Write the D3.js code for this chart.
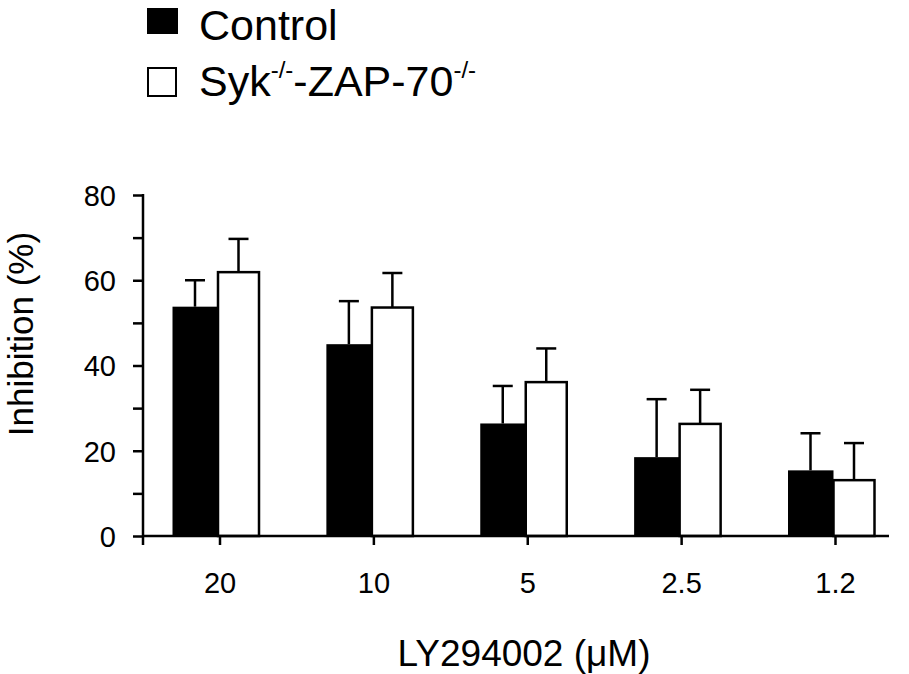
<!DOCTYPE html>
<html><head><meta charset="utf-8">
<script src="https://cdn.jsdelivr.net/npm/d3@7/dist/d3.min.js"></script>
<style>
html,body{margin:0;padding:0;background:#fff;}
text{font-family:"Liberation Sans",Arial,Helvetica,sans-serif;fill:#000;}
</style></head>
<body>
<svg id="chart" width="909" height="674"></svg>
<script>
const categories = ["20", "10", "5", "2.5", "1.2"];
const controlMean = [53.8, 45.0, 26.4, 18.5, 15.4];
const controlErr  = [6.2, 10.1, 8.8, 13.6, 8.7];
const sykMean     = [61.9, 53.6, 36.1, 26.3, 13.1];
const sykErr      = [7.8, 8.1, 7.9, 8.0, 8.7];
const yTicks = [0, 10, 20, 30, 40, 50, 60, 70, 80];
const yTickLabels = ["0", "", "20", "", "40", "", "60", "", "80"];

const svg = d3.select("#chart");
const axisLeftX = 143, axisRightX = 889;
const y = d3.scaleLinear().domain([0, 80]).range([536, 195]);
const x = d3.scalePoint().domain(categories).range([219.5, 835]);
const lw = 2.5;

// bars
const g = svg.append("g");
categories.forEach((c, i) => {
  const cx = x(c);
  g.append("rect").attr("x", cx - 47).attr("width", 45.5)
    .attr("y", y(controlMean[i])).attr("height", y(0) - y(controlMean[i]))
    .attr("fill", "#000");
  const bx = cx - 24.5;
  g.append("line").attr("x1", bx).attr("x2", bx)
    .attr("y1", y(controlMean[i])).attr("y2", y(controlMean[i] + controlErr[i]))
    .attr("stroke", "#000").attr("stroke-width", lw);
  g.append("line").attr("x1", bx - 10).attr("x2", bx + 10)
    .attr("y1", y(controlMean[i] + controlErr[i])).attr("y2", y(controlMean[i] + controlErr[i]))
    .attr("stroke", "#000").attr("stroke-width", lw);
  g.append("rect").attr("x", cx - 1.5).attr("width", 41)
    .attr("y", y(sykMean[i])).attr("height", y(0) - y(sykMean[i]))
    .attr("fill", "#fff").attr("stroke", "#000").attr("stroke-width", lw);
  const wx = cx + 19;
  g.append("line").attr("x1", wx).attr("x2", wx)
    .attr("y1", y(sykMean[i])).attr("y2", y(sykMean[i] + sykErr[i]))
    .attr("stroke", "#000").attr("stroke-width", lw);
  g.append("line").attr("x1", wx - 10).attr("x2", wx + 10)
    .attr("y1", y(sykMean[i] + sykErr[i])).attr("y2", y(sykMean[i] + sykErr[i]))
    .attr("stroke", "#000").attr("stroke-width", lw);
});

// y axis
const yAxis = d3.axisLeft(y).tickValues(yTicks).tickSize(10).tickSizeOuter(0)
  .tickFormat((d, i) => yTickLabels[i]);
const ya = svg.append("g").attr("transform", `translate(${axisLeftX},0)`).call(yAxis);
ya.select(".domain").remove();
ya.selectAll(".tick line").attr("stroke", "#000").attr("stroke-width", lw);
ya.selectAll(".tick text").attr("x", -27).attr("dy", "0.36em")
  .style("font-size", "29px").style("font-family", "Liberation Sans, Arial, sans-serif");
svg.append("line").attr("x1", axisLeftX).attr("x2", axisLeftX)
  .attr("y1", y(80) - 1).attr("y2", y(0) + 9)
  .attr("stroke", "#000").attr("stroke-width", lw);

// x axis
const xAxis = d3.axisBottom(x).tickSize(9).tickSizeOuter(0);
const xa = svg.append("g").attr("transform", `translate(0,${y(0)})`).call(xAxis);
xa.select(".domain").remove();
xa.selectAll(".tick line").attr("stroke", "#000").attr("stroke-width", lw);
xa.selectAll(".tick text").attr("y", 57).attr("dy", "0")
  .style("font-size", "29px").style("font-family", "Liberation Sans, Arial, sans-serif");
svg.append("line").attr("x1", axisLeftX - 1).attr("x2", axisRightX)
  .attr("y1", y(0)).attr("y2", y(0))
  .attr("stroke", "#000").attr("stroke-width", lw);

// axis titles
svg.append("text").attr("x", 524).attr("y", 666).attr("text-anchor", "middle")
  .style("font-size", "37px").text("LY294002 (μM)");
svg.append("text").attr("transform", "translate(33,334) rotate(-90)")
  .attr("text-anchor", "middle").style("font-size", "35px").text("Inhibition (%)");

// legend
svg.append("rect").attr("x", 147).attr("y", 8).attr("width", 31).attr("height", 26).attr("fill", "#000");
svg.append("rect").attr("x", 148).attr("y", 68).attr("width", 28).attr("height", 28)
  .attr("fill", "#fff").attr("stroke", "#000").attr("stroke-width", 2);
svg.append("text").attr("x", 199).attr("y", 39.5).style("font-size", "43px").text("Control");
const t2 = svg.append("text").attr("x", 199).attr("y", 96).style("font-size", "43px");
t2.append("tspan").text("Syk");
t2.append("tspan").attr("dy", -18).style("font-size", "24px").text("-/-");
t2.append("tspan").attr("dy", 18).text("-ZAP-70");
t2.append("tspan").attr("dy", -18).style("font-size", "24px").text("-/-");
</script>
</body></html>
